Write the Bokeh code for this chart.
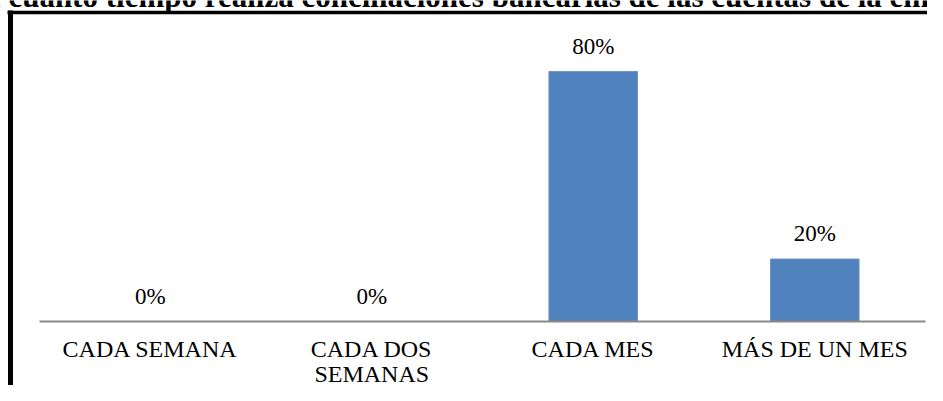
from bokeh.plotting import figure
from bokeh.models import ColumnDataSource, LabelSet, Label, Range1d, FixedTicker, LinearAxis
from bokeh.embed import file_html
from bokeh.resources import INLINE

# ---- data ----
categories = ["CADA SEMANA", "CADA DOS SEMANAS", "CADA MES", "MÁS DE UN MES"]
values = [0, 0, 80, 20]
value_labels = ["0%", "0%", "80%", "20%"]
tick_line1 = ["CADA SEMANA", "CADA DOS", "CADA MES", "MÁS DE UN MES"]
tick_line2 = ["", "SEMANAS", "", ""]
title_text = "¿Cada cuánto tiempo realiza conciliaciones bancarias de las cuentas de la empresa?"

FONT = "Liberation Serif"
positions = list(range(len(categories)))

# ---- layout (pixels): the plot frame covers the whole canvas ----
W, H = 927, 385
AX_LEFT, AX_RIGHT = 39, 925      # extent of the category axis
AX_Y = 321                       # pixel row of the value 0 (axis line)
PX_PER_PCT = 3.125               # vertical scale
slot = (AX_RIGHT - AX_LEFT) / len(categories)

def px_to_x(px):
    return -0.5 + (px - AX_LEFT) / slot

def py_to_y(py):
    return (AX_Y - py) / PX_PER_PCT

src = ColumnDataSource(dict(x=positions, val=values, lab=value_labels))

p = figure(
    width=W, height=H,
    x_range=Range1d(px_to_x(0), px_to_x(W)),
    y_range=Range1d(py_to_y(H), py_to_y(0)),
    output_backend="svg", toolbar_location=None,
    min_border_left=0, min_border_right=0, min_border_top=0, min_border_bottom=0,
)
p.outline_line_color = None
p.background_fill_color = "white"
p.border_fill_color = "white"
p.xgrid.visible = False
p.ygrid.visible = False
p.yaxis.visible = False

p.vbar(x="x", bottom=0, top="val", width=0.40, source=src,
       fill_color="#4F81BD", line_color="#6E96C8", line_width=1)

labels = LabelSet(x="x", y="val", text="lab", source=src, y_offset=18,
                  text_align="center", text_baseline="alphabetic",
                  text_font=FONT, text_font_size="23px", text_color="black")
p.add_layout(labels)

def style_cat_axis(ax, standoff):
    ax.fixed_location = 0
    ax.major_tick_line_color = None
    ax.minor_tick_line_color = None
    ax.major_tick_out = 0
    ax.major_tick_in = 0
    ax.major_label_standoff = standoff
    ax.major_label_text_font = FONT
    ax.major_label_text_font_size = "24px"
    ax.major_label_text_color = "black"

ax = p.xaxis[0]
style_cat_axis(ax, 14)
ax.ticker = FixedTicker(ticks=positions)
ax.major_label_overrides = {i: t for i, t in zip(positions, tick_line1)}
ax.axis_line_color = "#898989"
ax.axis_line_width = 2
ax.bounds = (px_to_x(AX_LEFT), px_to_x(AX_RIGHT))

# second line of the wrapped category names
pos2 = [i for i, t in zip(positions, tick_line2) if t]
ax2 = LinearAxis()
style_cat_axis(ax2, 39)
ax2.ticker = FixedTicker(ticks=pos2)
ax2.major_label_overrides = {i: tick_line2[i] for i in pos2}
ax2.axis_line_color = None
p.add_layout(ax2, "below")

# black frame of the document box: top and left edges
top_edge = LinearAxis(fixed_location=py_to_y(11.75), ticker=FixedTicker(ticks=[]),
                      axis_line_color="black", axis_line_width=3.5,
                      major_tick_line_color=None, minor_tick_line_color=None,
                      bounds=(px_to_x(7), px_to_x(W)))
p.add_layout(top_edge, "above")
left_edge = LinearAxis(fixed_location=px_to_x(9.5), ticker=FixedTicker(ticks=[]),
                       axis_line_color="black", axis_line_width=5,
                       major_tick_line_color=None, minor_tick_line_color=None,
                       bounds=(py_to_y(H), py_to_y(10)))
p.add_layout(left_edge, "left")

# title, cut at the top edge as in the source
p.add_layout(Label(x=px_to_x(-86), y=py_to_y(-4), text=title_text,
                   text_font=FONT, text_font_style="bold", text_font_size="31px",
                   text_baseline="alphabetic", text_align="left", text_color="black"))

open("out.html", "w").write(file_html(p, INLINE))
